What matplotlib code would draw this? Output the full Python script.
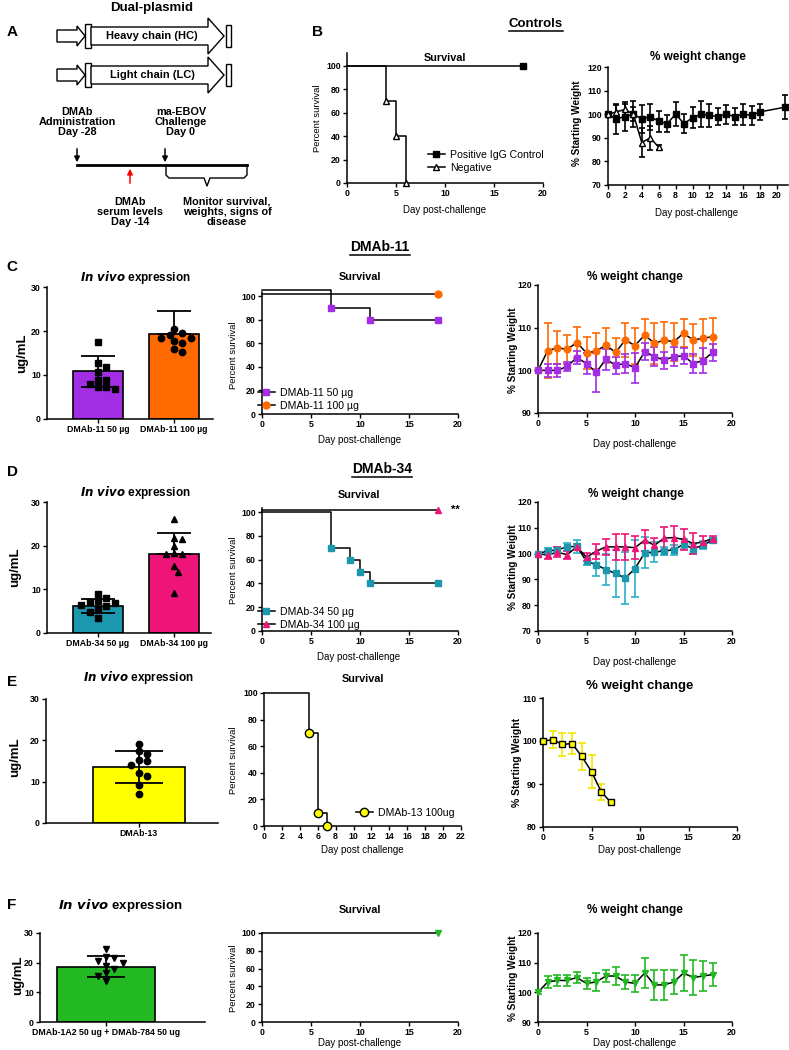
import numpy as np
import matplotlib
matplotlib.use("Agg")
import matplotlib.pyplot as plt
from matplotlib.patches import Polygon, Rectangle
from matplotlib.lines import Line2D

W, H = 789, 1050

# ---------------- data ----------------
# B: controls
ctrl_pos_surv_days = [0, 18]
ctrl_pos_surv = [100, 100]
ctrl_neg_surv_days = [0, 4, 5, 6]
ctrl_neg_surv = [100, 70, 40, 0]

ctrl_pos_wt_days = [0, 1, 2, 3, 4, 5, 6, 7, 8, 9, 10, 11, 12, 13, 14, 15, 16, 17, 18, 21]
ctrl_pos_wt = [100, 98, 99, 100, 98, 99, 97, 96, 100, 96, 98.5, 100, 99.5, 99, 100, 99, 100, 99.5, 101, 103]
ctrl_pos_wt_err = [1, 6.5, 6, 5.5, 6, 5.5, 4.5, 3.5, 5, 4, 4.5, 5.5, 5, 3.5, 4, 3.5, 4.5, 4, 3.5, 5]
ctrl_neg_wt_days = [0, 1, 2, 3, 4, 5, 6]
ctrl_neg_wt = [100, 101, 102, 100, 88, 90, 86]
ctrl_neg_wt_err = [1, 3, 2.5, 3, 6, 5, 1]

# C: DMAb-11
d11_labels = ["DMAb-11 50 µg", "DMAb-11 100 µg"]
d11_means = [10.8, 19.3]
d11_sds = [3.6, 5.2]
d11_50_pts = [17.5, 12.7, 11.8, 10.7, 8.9, 8.9, 7.9, 7.3, 7.3, 6.8]
d11_100_pts = [20.5, 19.5, 19.2, 18.4, 18.4, 17.7, 17.3, 15.9, 15.2]

d11_50_surv_days = [0, 7, 11, 18]
d11_50_surv = [100, 90, 80, 80]
d11_100_surv_days = [0, 18]
d11_100_surv = [100, 100]

wt_days = list(range(19))
d11_50_wt = [100, 100, 100, 100.9, 103, 101.6, 99.5, 102.6, 101.2, 101.6, 100.6, 104.4, 103.2, 102.4, 103.2, 103.4, 101.6, 102.3, 104.2]
d11_50_wt_err = [0.5, 1.5, 1.6, 1, 1.5, 2.5, 4.6, 2.5, 2, 2.2, 3.5, 2, 2.3, 2, 2.3, 1.8, 2.3, 3, 2]
d11_100_wt = [100, 104.6, 105.3, 104.9, 106.5, 104.1, 104.5, 105.9, 104.2, 107.1, 105.8, 108.3, 106.3, 107.1, 106.7, 108.7, 107.1, 107.5, 107.9]
d11_100_wt_err = [0.5, 6.5, 3.9, 3.4, 3.7, 3.8, 4.2, 4.1, 3.3, 3.9, 4.2, 3.8, 4.8, 4.2, 4.4, 3.3, 3.8, 4.5, 4.3]

# D: DMAb-34
d34_labels = ["DMAb-34 50 µg", "DMAb-34 100 µg"]
d34_means = [6.2, 18.2]
d34_sds = [1.6, 4.7]
d34_50_pts = [9.0, 8.0, 7.4, 7.0, 6.8, 6.5, 6.2, 5.5, 4.7, 3.4]
d34_100_pts = [26.0, 21.8, 21.6, 20.0, 18.3, 18.1, 18.0, 15.3, 14.0, 9.1]

d34_50_surv_days = [0, 7, 9, 10, 11, 18]
d34_50_surv = [100, 70, 60, 50, 40, 40]
d34_100_surv_days = [0, 18]
d34_100_surv = [100, 100]

d34_50_wt = [100, 101, 101.5, 102.6, 102.8, 97, 95.7, 93.8, 92.3, 90.5, 94.2, 100.3, 100.6, 101, 101.5, 103.6, 101.9, 103.2, 105.2]
d34_50_wt_err = [0.5, 1, 1, 1.5, 2.5, 1.5, 4.4, 6, 9, 10, 10.9, 6, 3.8, 1.5, 2, 2, 2, 1.5, 1]
d34_100_wt = [100, 99.4, 100.5, 99.6, 102.6, 98.6, 100.9, 102.6, 102.6, 102.6, 102.3, 105.2, 103.2, 106, 106.2, 105.5, 103.9, 104.5, 105.8]
d34_100_wt_err = [0.5, 1.5, 2, 1.5, 1, 1.5, 3, 3, 5, 5, 4.5, 4, 3, 4.5, 4.5, 4, 4, 2.5, 1]

# E: DMAb-13
d13_labels = ["DMAb-13"]
d13_means = [13.6]
d13_sds = [3.9]
d13_pts = [19.1, 17.3, 16.8, 15.3, 14.9, 14.1, 12.1, 11.3, 9.3, 6.9]

d13_surv_days = [0, 5, 6, 7]
d13_surv = [100, 70, 10, 0]

d13_wt_days = [0, 1, 2, 3, 4, 5, 6, 7]
d13_wt = [100, 100.3, 99.2, 99.4, 96.4, 92.9, 88.2, 85.7]
d13_wt_err = [0, 2, 2.7, 2.4, 3.2, 3.9, 1.9, 0]

# F: DMAb-1A2 + DMAb-784
mix_labels = ["DMAb-1A2 50 ug + DMAb-784 50 ug"]
mix_means = [18.7]
mix_sds = [3.6]
mix_pts = [24.6, 21.9, 21.6, 20.5, 19.8, 18.9, 17.8, 16.5, 15.5, 13.9]

mix_surv_days = [0, 18]
mix_surv = [100, 100]

mix_wt = [100, 103.5, 104, 104, 105, 103, 103.5, 105.5, 105.5, 103.5, 103, 106.5, 102.5, 102.5, 103.5, 106.5, 105, 105.5, 106]
mix_wt_err = [0.5, 2, 2, 2, 2, 2, 3, 2, 3, 2.5, 3, 5, 5, 5, 4, 6, 6, 5, 4]

PURPLE = "#A22DE2"
ORANGE = "#FF6A00"
TEAL = "#1C98AE"
PINK = "#EF1478"
YELLOW = "#FFFF00"
GREEN = "#22B922"

plt.rcParams['font.family'] = ['Liberation Sans', 'DejaVu Sans']
plt.rcParams['font.weight'] = 'bold'
plt.rcParams['axes.linewidth'] = 1.1

fig = plt.figure(figsize=(W / 100, H / 100), dpi=100)


def fx(x):
    return x / W


def fy(y):
    return 1 - y / H


def add_ax(x0, x1, ytop, ybot):
    return fig.add_axes([x0 / W, 1 - ybot / H, (x1 - x0) / W, (ybot - ytop) / H])


def txt(x, y, s, size=7, weight='bold', **kw):
    kw.setdefault('ha', 'center')
    kw.setdefault('va', 'center')
    return fig.text(fx(x), fy(y), s, fontsize=size, fontweight=weight, **kw)


def style(ax, fs=6.3):
    ax.spines['top'].set_visible(False)
    ax.spines['right'].set_visible(False)
    ax.tick_params(direction='out', length=3, width=1, labelsize=fs, pad=1.5)
    ax.patch.set_alpha(0)


def swarm_offsets(vals, ypx, xpx, d=7.0):
    vals = np.asarray(vals, float)
    placed = []
    out = np.zeros(len(vals))
    for i in np.argsort(-vals):
        y = vals[i] * ypx
        k = 0
        ok = None
        while ok is None:
            cands = [0.0] if k == 0 else [k * d * 0.6, -k * d * 0.6]
            for c in cands:
                if all(np.hypot(c - px, y - py) >= d for px, py in placed):
                    ok = c
                    break
            k += 1
        placed.append((ok, y))
        out[i] = ok / xpx
    return out


def bar_panel(ax, means, sds, pts, colors, markers, labels, lower, width, xpx, ypx, cap):
    xs = np.arange(len(means))
    ax.bar(xs, means, width=width, color=colors, edgecolor='k', linewidth=1.2, zorder=1)
    for i in range(len(means)):
        lo = sds[i] if lower[i] else 0
        ax.errorbar(xs[i], means[i], yerr=[[lo], [sds[i]]], fmt='none', ecolor='k',
                    elinewidth=1.3, capsize=cap, capthick=1.3, zorder=3)
        off = swarm_offsets(pts[i], ypx, xpx)
        ax.plot(xs[i] + off, pts[i], ls='none', marker=markers[i], ms=4.6,
                mfc='k', mec='k', zorder=4, clip_on=False)
    ax.set_ylim(0, 30)
    ax.set_yticks([0, 10, 20, 30])
    ax.set_xticks(xs)
    ax.set_xticklabels(labels, fontsize=6)
    style(ax)


def surv_line(ax, days, surv, color, marker, mec, off=0.0, ms=5):
    y = np.array(surv, float)
    yp = np.where(y == 100, 100 + off, y)
    ax.step(days, yp, where='post', color='k', lw=1.1, zorder=2, clip_on=False)
    ax.plot(days[1:], yp[1:], ls='none', marker=marker, ms=ms, mfc=color, mec=mec,
            mew=1.0, zorder=3, clip_on=False)


def wt_line(ax, days, vals, errs, color, marker, mec, ecolor, ms=4.8, cap=2.8):
    ax.errorbar(days, vals, yerr=errs, fmt='none', ecolor=ecolor, elinewidth=1.2,
                capsize=cap, capthick=1.2, zorder=2)
    ax.plot(days, vals, '-', color='k', lw=1.1, zorder=3)
    ax.plot(days, vals, ls='none', marker=marker, ms=ms, mfc=color, mec=mec, mew=1.0,
            zorder=4, clip_on=False)


def surv_legend(ax, handles, labels, x, y):
    ax.legend(handles, labels, loc='upper left', bbox_to_anchor=(fx(x), fy(y)),
              bbox_transform=fig.transFigure, frameon=False,
              handlelength=1.6, handletextpad=0.5, borderpad=0, borderaxespad=0,
              labelspacing=0.3, prop={'weight': 'normal', 'size': 7.6})


def handle(color, marker, mec):
    return Line2D([], [], color='k', lw=1.1, marker=marker, ms=5, mfc=color, mec=mec)


# ---------------- panel A (schematic) ----------------
ax0 = fig.add_axes([0, 0, 1, 1])
ax0.set_xlim(0, W)
ax0.set_ylim(H, 0)
ax0.axis('off')


def block_arrow(x0, x1, xh, yc, hb, hh):
    return Polygon([(x0, yc - hb), (xh, yc - hb), (xh, yc - hh), (x1, yc),
                    (xh, yc + hh), (xh, yc + hb), (x0, yc + hb)], closed=True,
                   fc='white', ec='k', lw=1.0)


for yc, name in [(36, "Heavy chain (HC)"), (75, "Light chain (LC)")]:
    ax0.add_patch(block_arrow(57, 85, 77, yc, 6, 10))
    ax0.add_patch(Rectangle((85, yc - 12), 6, 24, fc='white', ec='k', lw=1.0))
    ax0.add_patch(block_arrow(91, 224, 208, yc, 9, 18))
    ax0.add_patch(Rectangle((226, yc - 11), 5, 22, fc='white', ec='k', lw=1.0))
    ax0.text(152, yc, name, ha='center', va='center', fontsize=8)

txt(152, 8, "Dual-plasmid", size=9.5)
ax0.plot([77, 247], [165, 165], color='k', lw=2)
for xa in [77, 165]:
    ax0.annotate('', xy=(xa, 165), xytext=(xa, 146),
                 arrowprops=dict(arrowstyle='-|>', color='k', lw=1.1, mutation_scale=8))
ax0.annotate('', xy=(130, 166), xytext=(130, 186),
             arrowprops=dict(arrowstyle='-|>', color='red', lw=1.1, mutation_scale=8))
ax0.plot([166, 166, 169, 204, 207, 210, 244, 247, 247],
         [165, 175, 178, 178, 186, 178, 178, 175, 165], color='k', lw=1.0)
txt(77, 122, "DMAb\nAdministration\nDay -28", size=7.8, linespacing=1.05)
txt(181, 122, "ma-EBOV\nChallenge\nDay 0", size=7.8, linespacing=1.05)
txt(130, 212, "DMAb\nserum levels\nDay -14", size=7.8, linespacing=1.05)
txt(227, 212, "Monitor survival,\nweights, signs of\ndisease", size=7.8, linespacing=1.05)

# panel letters
for letter, x, y in [("A", 7, 32), ("B", 312, 32), ("C", 6, 267), ("D", 7, 472),
                     ("E", 7, 682), ("F", 7, 905)]:
    txt(x, y, letter, size=11, ha='left')

# underlined group titles
under = []
under.append(txt(536, 24, "Controls", size=9.5))
under.append(txt(380, 247, "DMAb-11", size=10))
under.append(txt(382, 469, "DMAb-34", size=10))

# ---------------- B: controls ----------------
ax = add_ax(347, 543, 53, 183)
surv_line(ax, ctrl_pos_surv_days, ctrl_pos_surv, 'k', 's', 'k')
surv_line(ax, ctrl_neg_surv_days, ctrl_neg_surv, 'white', '^', 'k')
ax.set_xlim(0, 20)
ax.set_ylim(0, 111)
ax.set_xticks([0, 5, 10, 15, 20])
ax.set_yticks([0, 20, 40, 60, 80, 100])
style(ax)
surv_legend(ax, [handle('k', 's', 'k'), handle('white', '^', 'k')],
            ["Positive IgG Control", "Negative"], 428, 150)
txt(445, 58, "Survival", size=7.8)
txt(317, 118, "Percent survival", size=6.8, weight='normal', rotation=90)
txt(445, 210, "Day post-challenge", size=7, weight='normal')

ax = add_ax(608, 788, 67, 185)
wt_line(ax, ctrl_pos_wt_days, ctrl_pos_wt, ctrl_pos_wt_err, 'k', 's', 'k', 'k', ms=4.5, cap=2.3)
wt_line(ax, ctrl_neg_wt_days, ctrl_neg_wt, ctrl_neg_wt_err, 'white', '^', 'k', 'k', ms=4.5, cap=2.3)
ax.set_xlim(0, 21.3)
ax.set_ylim(70, 120)
ax.set_xticks(range(0, 21, 2))
ax.set_yticks(range(70, 121, 10))
style(ax)
txt(698, 57, "% weight change", size=8.5)
txt(577, 123, "% Starting Weight", size=7.2, rotation=90)
txt(697, 213, "Day post-challenge", size=7, weight='normal')

# ---------------- C: DMAb-11 ----------------
ax = add_ax(47, 213, 287, 419)
bar_panel(ax, d11_means, d11_sds, [d11_50_pts, d11_100_pts], [PURPLE, ORANGE], ['s', 'o'],
          d11_labels, [True, False], 0.66, 76, 4.4, 12)
ax.set_xlim(-0.671, 1.513)
txt(135, 277, r"$\bf{\it{In\ vivo}}$ expression", size=8.5)
txt(22, 353, "ug/mL", size=9.5, rotation=90)

ax = add_ax(262, 458, 286.6, 414)
surv_line(ax, d11_100_surv_days, d11_100_surv, ORANGE, 'o', ORANGE, off=1.5)
surv_line(ax, d11_50_surv_days, d11_50_surv, PURPLE, 's', PURPLE, off=5.5)
ax.set_xlim(0, 20)
ax.set_ylim(0, 108)
ax.spines['left'].set_bounds(0, 103)
ax.set_xticks([0, 5, 10, 15, 20])
ax.set_yticks([0, 20, 40, 60, 80, 100])
style(ax)
surv_legend(ax, [handle(PURPLE, 's', PURPLE), handle(ORANGE, 'o', ORANGE)],
            d11_labels, 258, 388)
txt(360, 277, "Survival", size=7.8)
txt(233, 355, "Percent survival", size=6.8, weight='normal', rotation=90)
txt(360, 440, "Day post-challenge", size=7, weight='normal')

ax = add_ax(538, 732, 285, 413)
wt_line(ax, wt_days, d11_100_wt, d11_100_wt_err, ORANGE, 'o', ORANGE, ORANGE)
wt_line(ax, wt_days, d11_50_wt, d11_50_wt_err, PURPLE, 's', PURPLE, PURPLE)
ax.set_xlim(0, 20)
ax.set_ylim(90, 120)
ax.set_xticks([0, 5, 10, 15, 20])
ax.set_yticks([90, 100, 110, 120])
style(ax)
txt(635, 277, "% weight change", size=8.5)
txt(513, 350, "% Starting Weight", size=7.2, rotation=90)
txt(635, 444, "Day post-challenge", size=7, weight='normal')

# ---------------- D: DMAb-34 ----------------
ax = add_ax(47, 211, 502, 633)
bar_panel(ax, d34_means, d34_sds, [d34_50_pts, d34_100_pts], [TEAL, PINK], ['s', '^'],
          d34_labels, [True, False], 0.66, 76, 4.4, 12)
ax.set_xlim(-0.671, 1.487)
txt(135, 492, r"$\bf{\it{In\ vivo}}$ expression", size=8.5)
txt(15, 567, "ug/mL", size=9.5, rotation=90)

ax = add_ax(262, 458, 502.5, 631)
surv_line(ax, d34_100_surv_days, d34_100_surv, PINK, '^', PINK, off=2)
surv_line(ax, d34_50_surv_days, d34_50_surv, TEAL, 's', TEAL, off=0)
ax.set_xlim(0, 20)
ax.set_ylim(0, 108)
ax.spines['left'].set_bounds(0, 103)
ax.set_xticks([0, 5, 10, 15, 20])
ax.set_yticks([0, 20, 40, 60, 80, 100])
style(ax)
ax.text(19.3, 102, "**", fontsize=8, ha='left', va='center')
surv_legend(ax, [handle(TEAL, 's', TEAL), handle(PINK, '^', PINK)], d34_labels, 258, 607)
txt(359, 495, "Survival", size=7.8)
txt(233, 570, "Percent survival", size=6.8, weight='normal', rotation=90)
txt(359, 657, "Day post-challenge", size=7, weight='normal')

ax = add_ax(538, 732, 502, 631)
wt_line(ax, wt_days, d34_50_wt, d34_50_wt_err, TEAL, 's', TEAL, "#2AAFC8")
wt_line(ax, wt_days, d34_100_wt, d34_100_wt_err, PINK, '^', PINK, PINK)
ax.set_xlim(0, 20)
ax.set_ylim(70, 120)
ax.set_xticks([0, 5, 10, 15, 20])
ax.set_yticks(range(70, 121, 10))
style(ax)
txt(636, 494, "% weight change", size=8.5)
txt(513, 567, "% Starting Weight", size=7.2, rotation=90)
txt(635, 662, "Day post-challenge", size=7, weight='normal')

# ---------------- E: DMAb-13 ----------------
ax = add_ax(46, 218, 699, 823)
bar_panel(ax, d13_means, d13_sds, [d13_pts], [YELLOW], ['o'], d13_labels, [True],
          1.0, 92, 4.13, 17)
ax.set_xlim(-1.01, 0.86)
txt(138, 678, r"$\bf{\it{In\ vivo}}$ expression", size=8.5)
txt(15, 757, "ug/mL", size=9.5, rotation=90)

ax = add_ax(264, 461, 693, 826)
surv_line(ax, d13_surv_days, d13_surv, YELLOW, 'o', 'k', ms=6)
ax.set_xlim(0, 22)
ax.set_ylim(0, 100)
ax.set_xticks(range(0, 23, 2))
ax.set_yticks([0, 20, 40, 60, 80, 100])
style(ax)
surv_legend(ax, [Line2D([], [], color='k', lw=1.1, marker='o', ms=6, mfc=YELLOW, mec='k')],
            ["DMAb-13 100ug"], 356, 808)
txt(363, 679, "Survival", size=7.8)
txt(233, 760, "Percent survival", size=6.8, weight='normal', rotation=90)
txt(362, 850, "Day post challenge", size=7, weight='normal')

ax = add_ax(543, 737, 698, 827)
wt_line(ax, d13_wt_days, d13_wt, d13_wt_err, YELLOW, 's', 'k', "#F2E600", ms=5)
ax.set_xlim(0, 20)
ax.set_ylim(80, 110)
ax.set_xticks([0, 5, 10, 15, 20])
ax.set_yticks([80, 90, 100, 110])
style(ax)
txt(640, 686, "% weight change", size=9.5)
txt(517, 762, "% Starting Weight", size=7.5, rotation=90)
txt(640, 850, "Day post-challenge", size=7, weight='normal')

# ---------------- F: DMAb-1A2 + DMAb-784 ----------------
ax = add_ax(40, 205, 933, 1022)
bar_panel(ax, mix_means, mix_sds, [mix_pts], [GREEN], ['v'], mix_labels, [True],
          1.0, 98, 2.97, 14)
ax.set_xlim(-0.673, 1.01)
txt(120, 905, r"$\bf{\it{In\ vivo}}$ expression", size=9.5)
txt(18, 975, "ug/mL", size=9.5, rotation=90)

ax = add_ax(262, 458, 933, 1022)
surv_line(ax, mix_surv_days, mix_surv, GREEN, 'v', GREEN)
ax.set_xlim(0, 20)
ax.set_ylim(0, 100)
ax.set_xticks([0, 5, 10, 15, 20])
ax.set_yticks([0, 20, 40, 60, 80, 100])
style(ax)
txt(360, 910, "Survival", size=7.8)
txt(233, 978, "Percent survival", size=6.8, weight='normal', rotation=90)
txt(360, 1043, "Day post-challenge", size=7, weight='normal')

ax = add_ax(538, 732, 933, 1022)
wt_line(ax, wt_days, mix_wt, mix_wt_err, GREEN, 'v', GREEN, GREEN)
ax.set_xlim(0, 20)
ax.set_ylim(90, 120)
ax.set_xticks([0, 5, 10, 15, 20])
ax.set_yticks([90, 100, 110, 120])
style(ax)
txt(635, 910, "% weight change", size=8.5)
txt(513, 978, "% Starting Weight", size=7.2, rotation=90)
txt(635, 1043, "Day post-challenge", size=7, weight='normal')

# underline the group titles
r = fig.canvas.get_renderer()
for t in under:
    bb = t.get_window_extent(r)
    fig.add_artist(Line2D([bb.x0 / W, bb.x1 / W], [(bb.y0 - 1) / H] * 2,
                          transform=fig.transFigure, color='k', lw=1.1))

fig.savefig("out.png", dpi=100)
